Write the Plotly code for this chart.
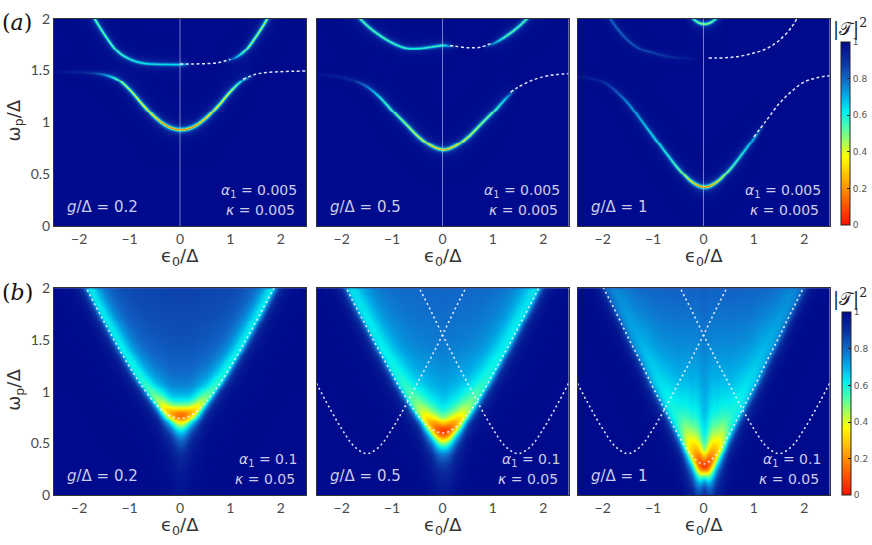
import numpy as np
import plotly.graph_objects as go

# ---------------- data ----------------
EPS = [-2.5, -2.25, -2.0, -1.75, -1.5, -1.25, -1.0, -0.75, -0.5, -0.25, 0.0,
       0.25, 0.5, 0.75, 1.0, 1.25, 1.5, 1.75, 2.0, 2.25, 2.5]

X_TICKS = [-2, -1, 0, 1, 2]
X_TICK_TEXT = ["−2", "−1", "0", "1", "2"]
Y_TICKS = [0, 0.5, 1, 1.5, 2]
Y_TICK_TEXT = ["0", "0.5", "1", "1.5", "2"]
CB_TICKS = [0, 0.2, 0.4, 0.6, 0.8, 1]
CB_TICK_TEXT = ["0", "0.2", "0.4", "0.6", "0.8", "1"]

G_VALUES = ["0.2", "0.5", "1"]
ALPHA_TOP, KAPPA_TOP = "0.005", "0.005"
ALPHA_BOT, KAPPA_BOT = "0.1", "0.05"

# (a) row: resonance branches (omega_p/Delta vs eps0/Delta) and dip depth 1-|T|^2
A1_UPPER = [2.70, 2.47, 2.25, 2.03, 1.84, 1.685, 1.61, 1.575, 1.566, 1.563, 1.562,
            1.563, 1.566, 1.575, 1.61, 1.685, 1.84, 2.03, 2.25, 2.47, 2.70]
A1_UPPER_D = [0.52, 0.52, 0.52, 0.52, 0.52, 0.50, 0.46, 0.43, 0.41, 0.40, 0.38,
              0.0, 0.0, 0.0, 0.2, 0.52, 0.58, 0.58, 0.58, 0.58, 0.58]
A1_LOWER = [1.495, 1.493, 1.489, 1.482, 1.464, 1.416, 1.309, 1.172, 1.047, 0.963, 0.935,
            0.963, 1.047, 1.172, 1.309, 1.416, 1.464, 1.482, 1.489, 1.493, 1.495]
A1_LOWER_D = [0.03, 0.05, 0.08, 0.15, 0.30, 0.54, 0.62, 0.70, 0.80, 0.88, 0.92,
              0.88, 0.80, 0.70, 0.62, 0.36, 0.0, 0.0, 0.0, 0.0, 0.0]

A2_UPPER = [2.60, 2.40, 2.20, 2.05, 1.93, 1.84, 1.77, 1.725, 1.72, 1.735, 1.75,
            1.735, 1.72, 1.725, 1.77, 1.84, 1.93, 2.05, 2.20, 2.40, 2.60]
A2_UPPER_D = [0.52, 0.52, 0.52, 0.52, 0.52, 0.52, 0.50, 0.48, 0.47, 0.47, 0.47,
              0.05, 0.0, 0.0, 0.3, 0.52, 0.52, 0.52, 0.52, 0.52, 0.52]
A2_LOWER = [1.47, 1.46, 1.44, 1.40, 1.34, 1.24, 1.11, 0.99, 0.87, 0.78, 0.74,
            0.78, 0.87, 0.99, 1.11, 1.24, 1.34, 1.40, 1.44, 1.46, 1.47]
A2_LOWER_D = [0.03, 0.05, 0.08, 0.15, 0.28, 0.45, 0.54, 0.60, 0.68, 0.76, 0.82,
              0.76, 0.68, 0.60, 0.54, 0.36, 0.0, 0.0, 0.0, 0.0, 0.0]

A3_SECOND = [2.50, 2.30, 2.10, 1.92, 1.79, 1.71, 1.67, 1.64, 1.625, 1.62, 1.62,
             1.62, 1.625, 1.64, 1.67, 1.71, 1.79, 1.92, 2.10, 2.30, 2.50]
A3_SECOND_D = [0.20, 0.20, 0.22, 0.22, 0.20, 0.18, 0.15, 0.12, 0.08, 0.04, 0.0,
               0.0, 0.0, 0.0, 0.0, 0.0, 0.0, 0.0, 0.0, 0.0, 0.0]
A3_LOWER = [1.45, 1.43, 1.39, 1.30, 1.18, 1.02, 0.86, 0.70, 0.55, 0.43, 0.38,
            0.43, 0.55, 0.70, 0.86, 1.02, 1.18, 1.30, 1.39, 1.43, 1.45]
A3_LOWER_D = [0.04, 0.07, 0.12, 0.20, 0.30, 0.36, 0.42, 0.46, 0.56, 0.76, 0.94,
              0.76, 0.56, 0.46, 0.32, 0.0, 0.0, 0.0, 0.0, 0.0, 0.0]
A3_ARC_EPS = [-0.4, -0.3, -0.2, -0.1, 0.0, 0.1, 0.2, 0.3, 0.4]
A3_ARC = [2.10, 2.04, 1.99, 1.96, 1.95, 1.96, 1.99, 2.04, 2.10]
A3_ARC_D = [0.30, 0.40, 0.50, 0.58, 0.60, 0.58, 0.50, 0.40, 0.30]

# (a) row theory curves (white dashes)
A1_DASH_UP_EPS = [0.0, 0.25, 0.5, 0.75, 1.0]
A1_DASH_UP = [1.562, 1.563, 1.566, 1.575, 1.61]
A1_DASH_LO_EPS = [1.25, 1.5, 1.75, 2.0, 2.25, 2.5]
A1_DASH_LO = [1.416, 1.464, 1.482, 1.489, 1.493, 1.495]
A2_DASH_UP_EPS = [0.15, 0.25, 0.5, 0.75, 1.0]
A2_DASH_UP = [1.742, 1.735, 1.72, 1.725, 1.77]
A2_DASH_LO_EPS = [1.35, 1.5, 1.75, 2.0, 2.25, 2.5]
A2_DASH_LO = [1.29, 1.34, 1.40, 1.44, 1.46, 1.47]
A3_DASH_UP_EPS = [0.1, 0.25, 0.5, 0.75, 1.0, 1.25, 1.5, 1.75, 1.85]
A3_DASH_UP = [1.62, 1.62, 1.625, 1.64, 1.67, 1.71, 1.79, 1.92, 2.0]
A3_DASH_LO_EPS = [1.0, 1.25, 1.5, 1.75, 2.0, 2.25, 2.5]
A3_DASH_LO = [0.86, 1.02, 1.18, 1.30, 1.39, 1.43, 1.45]

# (b) row: broad absorption band (centre of band, depth, outer width in px)
FILL_OMEGA = [0.0, 0.5, 1.0, 1.5, 2.0]
B1_RIDGE = [2.64, 2.40, 2.16, 1.93, 1.70, 1.48, 1.27, 1.08, 0.92, 0.81, 0.78,
            0.81, 0.92, 1.08, 1.27, 1.48, 1.70, 1.93, 2.16, 2.40, 2.64]
B1_DEPTH = [0.32, 0.32, 0.32, 0.32, 0.32, 0.32, 0.33, 0.36, 0.46, 0.68, 0.84,
            0.68, 0.46, 0.36, 0.33, 0.32, 0.32, 0.32, 0.32, 0.32, 0.32]
B1_WOUT = [4, 4, 4, 4, 4, 4, 4, 4, 5, 9, 15, 9, 5, 4, 4, 4, 4, 4, 4, 4, 4]
B1_FILL = [0.15, 0.18, 0.18, 0.15, 0.13]

B2_RIDGE = [2.60, 2.36, 2.12, 1.88, 1.65, 1.42, 1.20, 0.99, 0.81, 0.68, 0.62,
            0.68, 0.81, 0.99, 1.20, 1.42, 1.65, 1.88, 2.12, 2.36, 2.60]
B2_DEPTH = [0.28, 0.28, 0.28, 0.28, 0.29, 0.29, 0.30, 0.34, 0.46, 0.72, 0.92,
            0.72, 0.46, 0.34, 0.30, 0.29, 0.29, 0.28, 0.28, 0.28, 0.28]
B2_WOUT = [4, 4, 4, 4, 4, 4, 4, 4, 5, 9, 14, 9, 5, 4, 4, 4, 4, 4, 4, 4, 4]
B2_FILL = [0.25, 0.28, 0.25, 0.21, 0.19]

B3_RIDGE = [2.55, 2.30, 2.05, 1.81, 1.56, 1.32, 1.07, 0.84, 0.61, 0.41, 0.28,
            0.41, 0.61, 0.84, 1.07, 1.32, 1.56, 1.81, 2.05, 2.30, 2.55]
B3_DEPTH = [0.12, 0.12, 0.12, 0.13, 0.15, 0.17, 0.20, 0.24, 0.32, 0.65, 0.92,
            0.65, 0.32, 0.24, 0.20, 0.17, 0.15, 0.13, 0.12, 0.12, 0.12]
B3_WOUT = [4, 4, 4, 4, 4, 4, 4, 4, 5, 8, 10, 8, 5, 4, 4, 4, 4, 4, 4, 4, 4]
B3_FILL = [0.30, 0.30, 0.27, 0.22, 0.18]

# (b) row theory curves
B_DASH_EPS = [-2.25, -2.0, -1.75, -1.5, -1.25, -1.0, -0.75, -0.5, -0.25, 0.0,
              0.25, 0.5, 0.75, 1.0, 1.25, 1.5, 1.75, 2.0, 2.25]
B1_DASH = [2.37, 2.13, 1.90, 1.67, 1.45, 1.24, 1.05, 0.89, 0.78, 0.74,
           0.78, 0.89, 1.05, 1.24, 1.45, 1.67, 1.90, 2.13, 2.37]
B2_DASH = [2.33, 2.09, 1.85, 1.62, 1.39, 1.17, 0.96, 0.78, 0.65, 0.60,
           0.65, 0.78, 0.96, 1.17, 1.39, 1.62, 1.85, 2.09, 2.33]
B3_DASH = [2.27, 2.02, 1.78, 1.53, 1.29, 1.04, 0.81, 0.58, 0.39, 0.30,
           0.39, 0.58, 0.81, 1.04, 1.29, 1.53, 1.78, 2.02, 2.27]
SIDE_EPS = [-2.5, -2.25, -2.0, -1.75, -1.5, -1.25, -1.0, -0.75, -0.5, -0.25, 0.0, 0.25, 0.5, 0.75]
SIDE_LEFT = [1.08, 0.85, 0.64, 0.47, 0.40, 0.47, 0.64, 0.85, 1.08, 1.31, 1.55, 1.80, 2.04, 2.29]

# ---------------- geometry / style ----------------
W_FIG, H_FIG = 872, 545
PANEL_LEFT = [54, 316.5, 577.5]
PANEL_W = 252
ROW_Y = [(10, 224), (288.3, 501.7)]
SX = PANEL_W / 5.0

COLORSCALE = [[0.0, "rgb(255,16,0)"], [0.1, "rgb(255,80,0)"], [0.2, "rgb(255,144,0)"],
              [0.3, "rgb(255,210,0)"], [0.37, "rgb(255,255,0)"], [0.45, "rgb(170,255,90)"],
              [0.53, "rgb(80,255,170)"], [0.62, "rgb(0,240,240)"], [0.7, "rgb(0,176,232)"],
              [0.8, "rgb(16,104,200)"], [0.9, "rgb(10,46,158)"], [1.0, "rgb(0,10,140)"]]
TEXT_IN = "rgb(205,205,235)"
DASH_COL = "rgba(240,240,255,0.95)"


def fx(px):
    return px / W_FIG


def fy(py):
    return 1 - py / H_FIG


def smooth(xs, ys, xq):
    xs = np.asarray(xs, float)
    ys = np.asarray(ys, float)
    n = len(xs)
    i = np.clip(np.searchsorted(xs, xq, side="right") - 1, 0, n - 2)
    t = np.clip((xq - xs[i]) / (xs[i + 1] - xs[i]), 0, 1)
    p0 = ys[np.maximum(i - 1, 0)]
    p1 = ys[i]
    p2 = ys[i + 1]
    p3 = ys[np.minimum(i + 2, n - 1)]
    return 0.5 * (2 * p1 + (-p0 + p2) * t + (2 * p0 - 5 * p1 + 4 * p2 - p3) * t ** 2
                  + (-p0 + 3 * p1 - 3 * p2 + p3) * t ** 3)


def grid(ny):
    ex = (np.arange(PANEL_W) + 0.5) / PANEL_W * 5 - 2.5
    wy = (np.arange(ny) + 0.5) / ny * 2
    return ex, wy


def line_field(branches, ny, sy):
    ex, wy = grid(ny)
    T = np.ones((ny, PANEL_W))
    for xs, om, dep in branches:
        f = smooth(xs, om, ex)
        inside = (ex >= xs[0]) & (ex <= xs[-1])
        D = np.clip(smooth(xs, dep, ex), 0, 1) * inside
        s = np.gradient(f, ex) * sy / SX
        d = (wy[:, None] - f[None, :]) * sy / np.sqrt(1 + s ** 2)[None, :]
        a = D[None, :] * (0.85 / (1 + (d / 1.0) ** 2) + 0.15 / (1 + (d / 3.0) ** 2))
        T *= 1 - np.clip(a, 0, 1)
    return ex, wy, T


def band_field(ridge, depth, wout, win, fill, ny, sy):
    ex, wy = grid(ny)
    f = smooth(EPS, ridge, ex)
    D = np.clip(smooth(EPS, depth, ex), 0, 1)
    wo = smooth(EPS, wout, ex)
    s = np.gradient(f, ex) * sy / SX
    d = (wy[:, None] - f[None, :]) * sy / np.sqrt(1 + s ** 2)[None, :]
    prof = np.where(d >= 0, 1 / (1 + (d / win) ** 2), 1 / (1 + (d / wo[None, :]) ** 2))
    F = np.interp(wy, FILL_OMEGA, fill)[:, None] / (1 + np.exp(-d / 4.0))
    T = (1 - D[None, :] * prof) * (1 - F)
    return ex, wy, np.clip(T, 0, 1)


top_branches = [
    [(EPS, A1_UPPER, A1_UPPER_D), (EPS, A1_LOWER, A1_LOWER_D)],
    [(EPS, A2_UPPER, A2_UPPER_D), (EPS, A2_LOWER, A2_LOWER_D)],
    [(EPS, A3_SECOND, A3_SECOND_D), (EPS, A3_LOWER, A3_LOWER_D), (A3_ARC_EPS, A3_ARC, A3_ARC_D)],
]
top_dashes = [
    [(A1_DASH_UP_EPS, A1_DASH_UP), (A1_DASH_LO_EPS, A1_DASH_LO)],
    [(A2_DASH_UP_EPS, A2_DASH_UP), (A2_DASH_LO_EPS, A2_DASH_LO)],
    [(A3_DASH_UP_EPS, A3_DASH_UP), (A3_DASH_LO_EPS, A3_DASH_LO)],
]
side_right_eps = [-e for e in SIDE_EPS]
bottom_bands = [
    (B1_RIDGE, B1_DEPTH, B1_WOUT, 10.0, B1_FILL),
    (B2_RIDGE, B2_DEPTH, B2_WOUT, 12.0, B2_FILL),
    (B3_RIDGE, B3_DEPTH, B3_WOUT, 14.0, B3_FILL),
]
bottom_dashes = [
    [(B_DASH_EPS, B1_DASH)],
    [(B_DASH_EPS, B2_DASH), (SIDE_EPS, SIDE_LEFT), (side_right_eps, SIDE_LEFT)],
    [(B_DASH_EPS, B3_DASH), (SIDE_EPS, SIDE_LEFT), (side_right_eps, SIDE_LEFT)],
]

fig = go.Figure()
layout = dict(width=W_FIG, height=H_FIG, margin=dict(l=0, r=0, t=0, b=0),
              paper_bgcolor="white", plot_bgcolor="rgb(0,10,140)", showlegend=False,
              font=dict(family="Lato, DejaVu Sans, sans-serif", color="#444"))
annotations = []
shapes = []

tick_font = dict(family="Lato, DejaVu Sans, sans-serif", size=14, color="#4a4a4a")

for row in range(2):
    y0, y1 = ROW_Y[row]
    ny = int(round(y1 - y0))
    sy = (y1 - y0) / 2.0
    for col in range(3):
        k = row * 3 + col + 1
        xa = "x" if k == 1 else f"x{k}"
        ya = "y" if k == 1 else f"y{k}"
        left = PANEL_LEFT[col]
        if row == 0:
            ex, wy, T = line_field(top_branches[col], ny, sy)
            dashes = top_dashes[col]
            dash_style = dict(color=DASH_COL, width=1.5, dash="3px,2.5px", shape="spline")
        else:
            r, dpt, wo, wi, fl = bottom_bands[col]
            ex, wy, T = band_field(r, dpt, wo, wi, fl, ny, sy)
            dashes = bottom_dashes[col]
            dash_style = dict(color=DASH_COL, width=1.6, dash="2px,3px", shape="spline")
        fig.add_trace(go.Heatmap(x=ex, y=wy, z=T.astype(np.float32),
                                 coloraxis="coloraxis" if row == 0 else "coloraxis2",
                                 zsmooth="best", xaxis=xa, yaxis=ya, hoverinfo="skip"))
        if row == 0:
            shapes.append(dict(type="line", xref=xa, yref=ya, x0=0, x1=0, y0=0, y1=2,
                               line=dict(color="rgba(200,200,235,0.6)", width=1), layer="above"))
        for xs, ys in dashes:
            fig.add_trace(go.Scatter(x=xs, y=ys, mode="lines", line=dash_style,
                                     xaxis=xa, yaxis=ya, hoverinfo="skip"))
        xkey = "xaxis" if k == 1 else f"xaxis{k}"
        ykey = "yaxis" if k == 1 else f"yaxis{k}"
        layout[xkey] = dict(domain=[fx(left), fx(left + PANEL_W)], range=[-2.5, 2.5],
                            anchor=ya, tickvals=X_TICKS, ticktext=X_TICK_TEXT,
                            tickfont=tick_font, showgrid=False, zeroline=False,
                            showline=True, mirror=True, linecolor="#333", linewidth=1,
                            ticks="")
        layout[ykey] = dict(domain=[fy(y1), fy(y0)], range=[0, 2], anchor=xa,
                            tickvals=Y_TICKS, ticktext=Y_TICK_TEXT, tickfont=tick_font,
                            showticklabels=(col == 0), showgrid=False, zeroline=False,
                            showline=True, mirror=True, linecolor="#333", linewidth=1,
                            ticks="")
        # axis title under each panel
        annotations.append(dict(xref="paper", yref="paper", x=fx(left + PANEL_W / 2),
                                y=fy(y1 + 32), text="ϵ<sub>0</sub>/Δ", showarrow=False,
                                font=dict(size=18, color="#333", family="DejaVu Sans"),
                                xanchor="center", yanchor="middle"))
        # parameter labels inside panel
        annotations.append(dict(xref="paper", yref="paper", x=fx(left + 11), y=fy(y1 - 20),
                                text=f"<i>g</i>/Δ = {G_VALUES[col]}", showarrow=False,
                                font=dict(size=15, color=TEXT_IN, family="DejaVu Sans"),
                                xanchor="left", yanchor="middle"))
        a_val, k_val = (ALPHA_TOP, KAPPA_TOP) if row == 0 else (ALPHA_BOT, KAPPA_BOT)
        annotations.append(dict(xref="paper", yref="paper", x=fx(left + PANEL_W - 7),
                                y=fy(y1 - 36), text=f"<i>α</i><sub>1</sub> = {a_val}",
                                showarrow=False,
                                font=dict(size=14, color=TEXT_IN, family="DejaVu Sans"),
                                xanchor="right", yanchor="middle"))
        annotations.append(dict(xref="paper", yref="paper", x=fx(left + PANEL_W - 9),
                                y=fy(y1 - 17), text=f"<i>κ</i> = {k_val}", showarrow=False,
                                font=dict(size=14, color=TEXT_IN, family="DejaVu Sans"),
                                xanchor="right", yanchor="middle"))
    # y-axis title
    annotations.append(dict(xref="paper", yref="paper", x=fx(15), y=fy((y0 + y1) / 2 - 2),
                            text="ω<sub>p</sub>/Δ", showarrow=False, textangle=-90,
                            font=dict(size=18, color="#333", family="DejaVu Sans"),
                            xanchor="center", yanchor="middle"))
    # panel letter
    annotations.append(dict(xref="paper", yref="paper", x=fx(0), y=fy(y0 + 4),
                            text="(<i>a</i>)" if row == 0 else "(<i>b</i>)", showarrow=False,
                            font=dict(size=22, color="#111", family="DejaVu Serif"),
                            xanchor="left", yanchor="middle"))
    # colour bar title
    annotations.append(dict(xref="paper", yref="paper", x=fx(850), y=fy(y0 + 9),
                            text="|𝒯|<sup>2</sup>", showarrow=False,
                            font=dict(size=18, color="#222", family="DejaVu Serif"),
                            xanchor="center", yanchor="middle"))

cb_common = dict(thickness=9, thicknessmode="pixels", lenmode="fraction",
                 xanchor="left", yanchor="middle", xpad=0, ypad=0,
                 outlinewidth=1, outlinecolor="#222", ticks="inside", ticklen=3,
                 tickcolor="#222", tickvals=CB_TICKS, ticktext=CB_TICK_TEXT,
                 tickfont=dict(size=9, color="#555", family="DejaVu Sans"))
layout["coloraxis"] = dict(colorscale=COLORSCALE, cmin=0, cmax=1,
                           colorbar=dict(x=fx(841), y=fy((34.3 + 223) / 2),
                                         len=(223 - 34.3) / H_FIG, **cb_common))
layout["coloraxis2"] = dict(colorscale=COLORSCALE, cmin=0, cmax=1,
                            colorbar=dict(x=fx(842), y=fy((313 + 502) / 2),
                                          len=(502 - 313) / H_FIG, **cb_common))
layout["annotations"] = annotations
layout["shapes"] = shapes
fig.update_layout(**layout)
fig.write_html("out.html", config={"displayModeBar": False},
               post_script="document.body.style.margin='0px';")
